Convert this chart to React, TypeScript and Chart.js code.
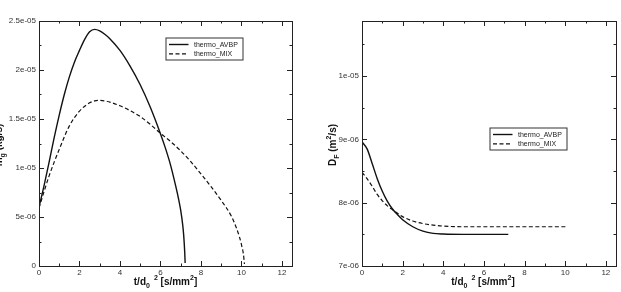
import React, { useEffect, useRef } from "react";
import { Chart, registerables } from "chart.js";

Chart.register(...registerables);

const FONT = "'Liberation Sans', Arial, Helvetica, sans-serif";

// Evaporation rate of the droplet versus normalised time t/d0² (s/mm²)
const avbpRateT = [0, 0.25, 0.5, 0.75, 1, 1.25, 1.5, 1.75, 2, 2.25, 2.5, 2.75, 3, 3.25, 3.5, 4, 4.5, 5, 5.5, 6, 6.25, 6.5, 6.75, 6.9, 7.0, 7.1, 7.15, 7.2, 7.22];
const avbpRate = [6.0e-6, 8.2e-6, 1.06e-5, 1.31e-5, 1.54e-5, 1.75e-5, 1.93e-5, 2.08e-5, 2.2e-5, 2.31e-5, 2.39e-5, 2.415e-5, 2.4e-5, 2.365e-5, 2.32e-5, 2.2e-5, 2.04e-5, 1.85e-5, 1.62e-5, 1.35e-5, 1.2e-5, 1.03e-5, 8.2e-6, 6.8e-6, 5.7e-6, 4.2e-6, 3.1e-6, 1.4e-6, 3.0e-7];
const mixRateT = [0, 0.25, 0.5, 0.75, 1, 1.5, 2, 2.5, 2.75, 3, 3.25, 3.5, 4, 4.5, 5, 5.5, 6, 6.5, 7, 7.5, 8, 8.5, 9, 9.5, 9.75, 9.9, 10, 10.1, 10.15];
const mixRate = [5.9e-6, 7.6e-6, 9.2e-6, 1.06e-5, 1.19e-5, 1.43e-5, 1.58e-5, 1.665e-5, 1.685e-5, 1.69e-5, 1.685e-5, 1.672e-5, 1.635e-5, 1.585e-5, 1.525e-5, 1.445e-5, 1.355e-5, 1.27e-5, 1.175e-5, 1.065e-5, 9.4e-6, 8.1e-6, 6.7e-6, 5.1e-6, 3.9e-6, 3.0e-6, 2.2e-6, 1.2e-6, 2.0e-7];

// Fuel diffusion coefficient D_F (m²/s) versus t/d0²
const avbpDiffT = [0, 0.25, 0.5, 0.75, 1, 1.25, 1.5, 1.75, 2, 2.5, 3, 3.5, 4, 5, 6, 7.2];
const avbpDiff = [8.96e-6, 8.85e-6, 8.62e-6, 8.38e-6, 8.18e-6, 8.02e-6, 7.9e-6, 7.81e-6, 7.73e-6, 7.62e-6, 7.55e-6, 7.515e-6, 7.505e-6, 7.5e-6, 7.5e-6, 7.5e-6];
const mixDiffT = [0, 0.25, 0.5, 0.75, 1, 1.25, 1.5, 2, 2.5, 3, 3.5, 4, 5, 6, 8, 10.1];
const mixDiff = [8.48e-6, 8.38e-6, 8.26e-6, 8.13e-6, 8.03e-6, 7.95e-6, 7.89e-6, 7.78e-6, 7.71e-6, 7.67e-6, 7.645e-6, 7.63e-6, 7.62e-6, 7.62e-6, 7.62e-6, 7.62e-6];

const seriesNames = ["thermo_AVBP", "thermo_MIX"];

type Seg = { t: string; small?: boolean; dy?: number; gap?: number };

const fmtSci = (v: number) => {
  if (Math.abs(v) < 1e-15) return "0";
  const [m, e] = Number(v.toPrecision(6)).toExponential().split("e");
  const sign = e[0] === "-" ? "-" : "+";
  const digits = e.replace(/^[+-]/, "").padStart(2, "0");
  return `${m}e${sign}${digits}`;
};

function drawRich(ctx: CanvasRenderingContext2D, segs: Seg[], cx: number, cy: number) {
  const big = `bold 10px ${FONT}`;
  const small = `bold 7px ${FONT}`;
  let total = 0;
  const widths = segs.map((s) => {
    ctx.font = s.small ? small : big;
    const w = ctx.measureText(s.t).width + (s.gap || 0);
    total += w;
    return w;
  });
  let x = cx - total / 2;
  ctx.textAlign = "left";
  ctx.textBaseline = "alphabetic";
  segs.forEach((s, i) => {
    ctx.font = s.small ? small : big;
    ctx.fillText(s.t, x + (s.gap || 0), cy + (s.dy || 0));
    x += widths[i];
  });
}

const xTitle: Seg[] = [
  { t: "t/d" },
  { t: "0", small: true, dy: 3 },
  { t: "2", small: true, dy: -5, gap: 4 },
  { t: " [s/mm" },
  { t: "2", small: true, dy: -5 },
  { t: "]" },
];

interface PanelSpec {
  left: number;
  width: number;
  series: { xs: number[]; ys: number[] }[];
  yMin: number;
  yMax: number;
  yStep: number;
  yAxisWidth: number;
  padRight: number;
  legendAt: [number, number];
  xTitleCx: number;
  yTitle: Seg[];
  yTitleAt: [number, number];
}

const panels: PanelSpec[] = [
  {
    left: 0,
    width: 310,
    series: [
      { xs: avbpRateT, ys: avbpRate },
      { xs: mixRateT, ys: mixRate },
    ],
    yMin: 0,
    yMax: 2.5e-5,
    yStep: 5e-6,
    yAxisWidth: 39,
    padRight: 18,
    legendAt: [165.5, 37.5],
    xTitleCx: 165.5,
    yTitle: [{ t: "ṁ" }, { t: "g", small: true, dy: 3 }, { t: " (kg/s)" }],
    yTitleAt: [1.5, 145],
  },
  {
    left: 310,
    width: 311,
    series: [
      { xs: avbpDiffT, ys: avbpDiff },
      { xs: mixDiffT, ys: mixDiff },
    ],
    yMin: 7e-6,
    yMax: 1.087e-5,
    yStep: 1e-6,
    yAxisWidth: 52,
    padRight: 5,
    legendAt: [179.5, 127.5],
    xTitleCx: 173,
    yTitle: [{ t: "D" }, { t: "F", small: true, dy: 3 }, { t: " (m" }, { t: "2", small: true, dy: -5 }, { t: "/s)" }],
    yTitleAt: [26, 145],
  },
];

const lineStyles = [
  { borderWidth: 1.4, borderDash: [] as number[] },
  { borderWidth: 1.2, borderDash: [4, 2.5] },
];

function Panel({ spec }: { spec: PanelSpec }) {
  const ref = useRef<HTMLCanvasElement | null>(null);

  useEffect(() => {
    if (!ref.current) return;

    const framePlugin = {
      id: "frameTicksLegend",
      afterDatasetsDraw(chart: any) {
        const { ctx, chartArea: a } = chart;
        const xs = chart.scales.x;
        const ys = chart.scales.y;
        ctx.save();
        ctx.strokeStyle = "#222";
        ctx.lineWidth = 1;
        ctx.setLineDash([]);
        ctx.strokeRect(Math.round(a.left) + 0.5, Math.round(a.top) + 0.5, Math.round(a.right - a.left), Math.round(a.bottom - a.top));

        const tickSet = (scale: any, step: number) => {
          const majors: number[] = scale.ticks.map((t: any) => t.value);
          const minors: number[] = [];
          majors.forEach((m) => {
            const v = m + step / 2;
            if (v <= scale.max + 1e-12) minors.push(v);
          });
          return { majors, minors };
        };
        const xt = tickSet(xs, 2);
        const yt = tickSet(ys, spec.yStep);
        ctx.beginPath();
        const xMark = (v: number, len: number) => {
          const p = Math.round(xs.getPixelForValue(v)) + 0.5;
          ctx.moveTo(p, a.bottom);
          ctx.lineTo(p, a.bottom - len);
          ctx.moveTo(p, a.top);
          ctx.lineTo(p, a.top + len);
        };
        const yMark = (v: number, len: number) => {
          const p = Math.round(ys.getPixelForValue(v)) + 0.5;
          ctx.moveTo(a.left, p);
          ctx.lineTo(a.left + len, p);
          ctx.moveTo(a.right, p);
          ctx.lineTo(a.right - len, p);
        };
        xt.majors.forEach((v) => xMark(v, 5));
        xt.minors.forEach((v) => xMark(v, 2.5));
        yt.majors.forEach((v) => yMark(v, 5));
        yt.minors.forEach((v) => yMark(v, 2.5));
        ctx.stroke();

        // legend box
        const [bx, by] = spec.legendAt;
        ctx.fillStyle = "#fff";
        ctx.fillRect(bx, by, 77, 22);
        ctx.strokeStyle = "#333";
        ctx.strokeRect(bx + 0.5, by + 0.5, 77, 22);
        chart.data.datasets.forEach((ds: any, i: number) => {
          const y = by + 7 + i * 9.3;
          ctx.beginPath();
          ctx.strokeStyle = "#111";
          ctx.lineWidth = ds.borderWidth;
          ctx.setLineDash(ds.borderDash || []);
          ctx.moveTo(bx + 3.5, y);
          ctx.lineTo(bx + 23, y);
          ctx.stroke();
          ctx.setLineDash([]);
          ctx.fillStyle = "#222";
          ctx.font = `7px ${FONT}`;
          ctx.textAlign = "left";
          ctx.textBaseline = "middle";
          ctx.fillText(ds.label, bx + 28.5, y + 0.5);
        });

        // axis titles
        ctx.fillStyle = "#111";
        drawRich(ctx, xTitle, spec.xTitleCx, 285);
        ctx.translate(spec.yTitleAt[0], spec.yTitleAt[1]);
        ctx.rotate(-Math.PI / 2);
        drawRich(ctx, spec.yTitle, 0, 0);
        ctx.restore();
      },
    };

    const chart = new Chart(ref.current, {
      type: "line",
      data: {
        datasets: spec.series.map((s, i) => ({
          label: seriesNames[i],
          data: s.xs.map((x, j) => ({ x, y: s.ys[j] })),
          borderColor: "#111",
          borderWidth: lineStyles[i].borderWidth,
          borderDash: lineStyles[i].borderDash,
          pointRadius: 0,
          fill: false,
          cubicInterpolationMode: "monotone" as const,
        })),
      },
      options: {
        animation: false,
        responsive: false,
        devicePixelRatio: 1,
        layout: { padding: { top: 21, right: spec.padRight, left: 0, bottom: 0 } },
        plugins: { legend: { display: false }, tooltip: { enabled: false } },
        scales: {
          x: {
            type: "linear",
            min: 0,
            max: 12.5,
            grid: { display: false, drawTicks: false },
            border: { display: false },
            ticks: {
              stepSize: 2,
              includeBounds: false,
              padding: 2,
              maxRotation: 0,
              color: "#333",
              font: { size: 8, family: FONT },
              callback: (v: any) => String(v),
            },
            afterFit: (s: any) => {
              s.height = 26;
            },
          },
          y: {
            type: "linear",
            min: spec.yMin,
            max: spec.yMax,
            grid: { display: false, drawTicks: false },
            border: { display: false },
            ticks: {
              stepSize: spec.yStep,
              includeBounds: false,
              padding: 3,
              color: "#333",
              font: { size: 8, family: FONT },
              callback: (v: any) => fmtSci(Number(v)),
            },
            afterFit: (s: any) => {
              s.width = spec.yAxisWidth;
            },
          },
        },
      },
      plugins: [framePlugin],
    });
    return () => chart.destroy();
  }, [spec]);

  return (
    <canvas
      ref={ref}
      width={spec.width}
      height={292}
      style={{ position: "absolute", left: spec.left, top: 0, width: spec.width, height: 292 }}
    />
  );
}

export default function App() {
  return (
    <div style={{ position: "absolute", left: 0, top: 0, width: 621, height: 292, background: "#fff", overflow: "hidden" }}>
      {panels.map((p, i) => (
        <Panel key={i} spec={p} />
      ))}
    </div>
  );
}
